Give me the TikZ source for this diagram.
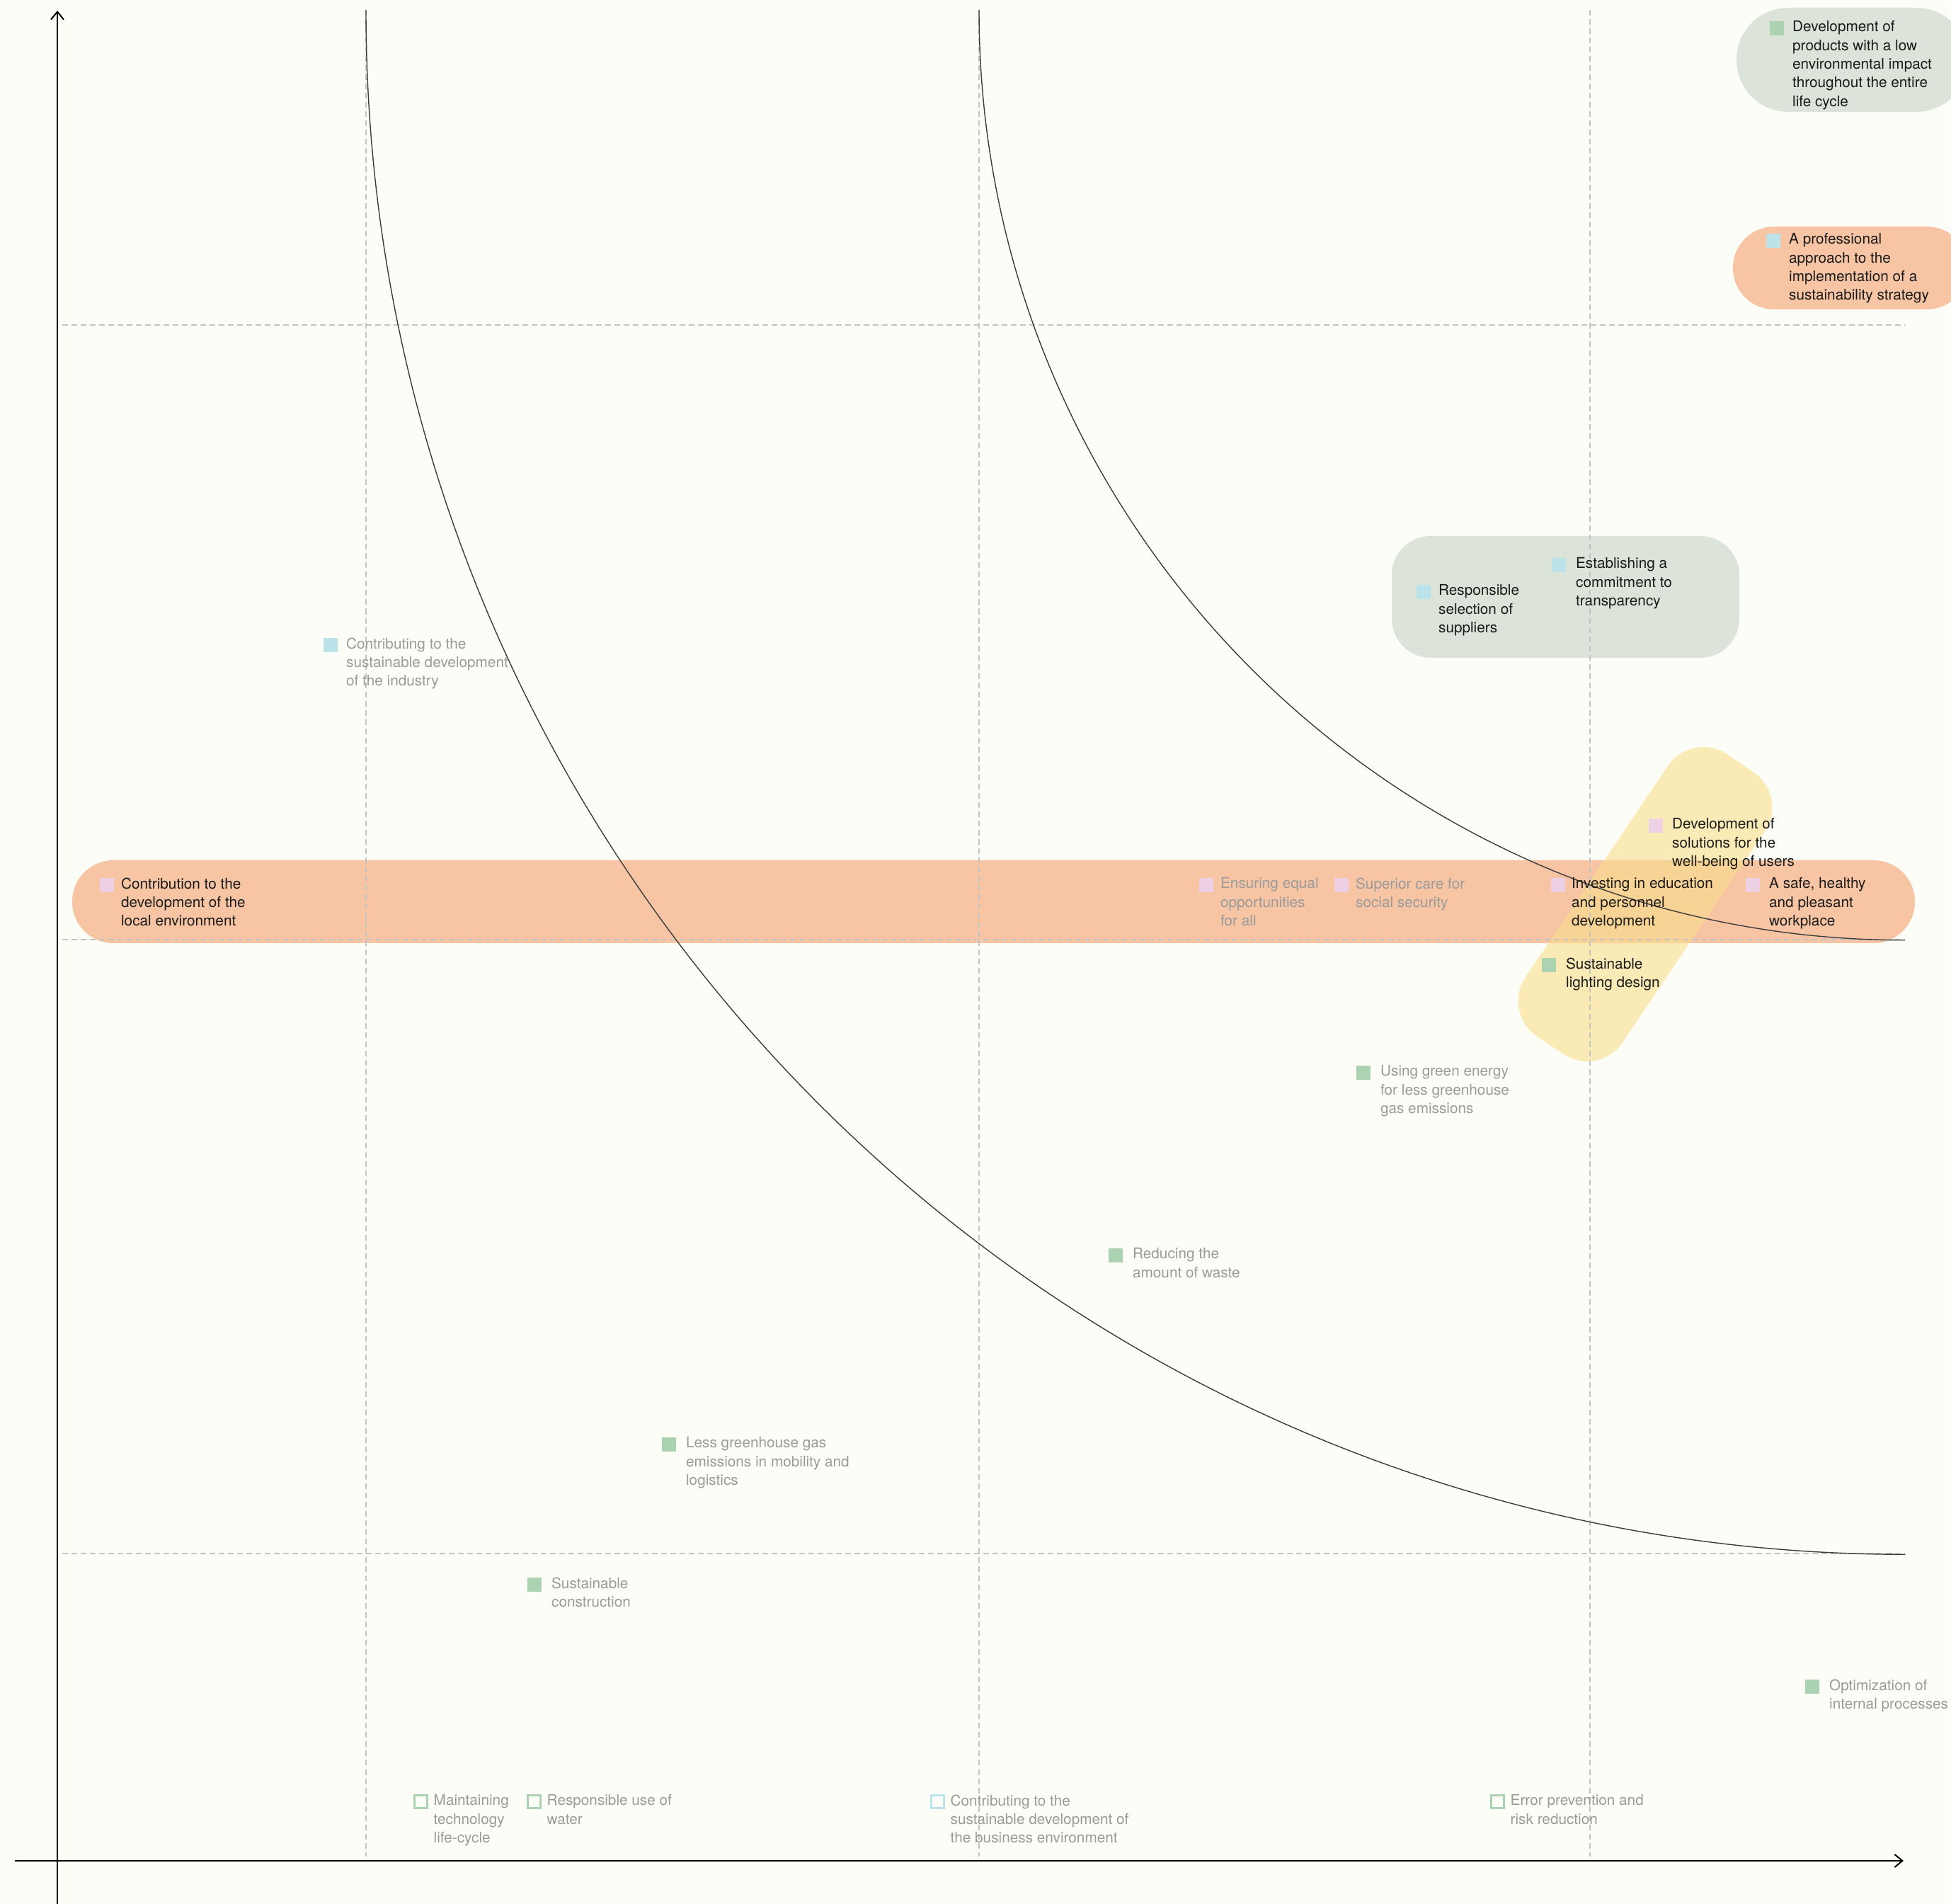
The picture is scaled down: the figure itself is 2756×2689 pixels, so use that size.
\documentclass[tikz,border=0pt]{standalone}
\usepackage{fontspec}
\setmainfont{TeX Gyre Heros}
\usepackage{tikz}
\usetikzlibrary{arrows.meta, positioning}
\definecolor{paper}{HTML}{FDFDF7}
\definecolor{leaf}{HTML}{ABD3B1}
\definecolor{sky}{HTML}{BDE3EA}
\definecolor{blush}{HTML}{EED0E5}
\definecolor{sage}{HTML}{DCE3D9}
\definecolor{peach}{HTML}{F7C5A4}
\definecolor{butter}{HTML}{F7DE8C}
\definecolor{ink}{HTML}{1A1A1A}
\definecolor{ash}{HTML}{9A9A9A}
\definecolor{rule}{HTML}{C4C4C4}
\definecolor{lead}{HTML}{3C3C3C}
\tikzstyle{chip}=[rectangle, minimum size=0.2cm, inner sep=0pt, anchor=north west]
\tikzstyle{openchip}=[rectangle, minimum size=0.18cm, inner sep=0pt, line width=0.03cm, fill=paper, anchor=north west]
\tikzstyle{topic}=[align=left, inner sep=0pt, text=ink, font=\fontsize{5.9}{7.5}\selectfont, anchor=north west]
\tikzstyle{minor}=[topic, text=ash]
\tikzstyle{guide}=[rule, line width=0.3pt, dash pattern=on 0.08cm off 0.05cm]
\tikzstyle{curve}=[lead, line width=0.4pt]
\tikzstyle{axis}=[black, line width=0.02cm, -{Straight Barb[length=0.11cm, width=0.18cm]}]

\begin{document}
\begin{tikzpicture}[x=0.01cm, y=-0.01cm]
    \path[use as bounding box, fill=paper] (0,0) rectangle (2756,2689);
    \clip (0,0) rectangle (2756,2689);

    \fill[sage, rounded corners=0.73cm] (2453,11) rectangle (2780,158);
    \fill[peach, rounded corners=0.58cm] (2448,320) rectangle (2780,437);
    \fill[sage, rounded corners=0.55cm] (1966,757) rectangle (2457,929);
    \fill[peach, rounded corners=0.58cm] (102,1215) rectangle (2705,1332);
    \node[rectangle, fill=butter, fill opacity=0.6, rounded corners=0.6cm,
          minimum width=4.8cm, minimum height=1.65cm, rotate=56] (band) at (2324,1277) {};

    \draw[guide] (88,459) -- (2690,459);
    \draw[guide] (88,1327) -- (2690,1327);
    \draw[guide] (88,2194) -- (2690,2194);
    \draw[guide] (517,14) -- (517,2622);
    \draw[guide] (1383,14) -- (1383,2622);
    \draw[guide] (2246,14) -- (2246,2622);

    \draw[curve] (517,14) arc[start angle=180, end angle=270, x radius=21.73cm, y radius=21.80cm];
    \draw[curve] (1383,14) arc[start angle=180, end angle=270, x radius=13.07cm, y radius=13.13cm];

    \coordinate (ybot) at (81,2689);
    \coordinate (ytop) at (81,15);
    \coordinate (xlft) at (21,2628);
    \coordinate (xrgt) at (2689,2628);
    \draw[axis] (ybot) -- (ytop);
    \draw[axis] (xlft) -- (xrgt);

    \node[chip, fill=leaf] (s1) at (2499,29) {};
    \node (prod) [right=0.11cm of s1.north east, topic] {Development of\\products with a low\\environmental impact\\throughout the entire\\life cycle};
    \node[chip, fill=sky] (s2) at (2494,329) {};
    \node (strat) [right=0.11cm of s2.north east, topic] {A professional\\approach to the\\implementation of a\\sustainability strategy};
    \node[chip, fill=sky] (s3) at (2000,825) {};
    \node (supp) [right=0.1cm of s3.north east, topic] {Responsible\\selection of\\suppliers};
    \node[chip, fill=sky] (s4) at (2191,787) {};
    \node (transp) [right=0.13cm of s4.north east, topic] {Establishing a\\commitment to\\transparency};
    \node[chip, fill=sky] (s5) at (456,900) {};
    \node (industry) [right=0.11cm of s5.north east, minor] {Contributing to the\\sustainable development\\of the industry};

    \node[chip, fill=blush] (s6) at (140,1239) {};
    \node (local) [right=0.09cm of s6.north east, topic] {Contribution to the\\development of the\\local environment};
    \node[chip, fill=blush] (s7) at (1693,1239) {};
    \node (equal) [right=0.09cm of s7.north east, minor] {Ensuring equal\\opportunities\\for all};
    \node[chip, fill=blush] (s8) at (1884,1239) {};
    \node (care) [right=0.09cm of s8.north east, minor] {Superior care for\\social security};
    \node[chip, fill=blush] (s9) at (2190,1239) {};
    \node (edu) [right=0.08cm of s9.north east, topic] {Investing in education\\and personnel\\development};
    \node[chip, fill=blush] (s10) at (2465,1239) {};
    \node (work) [right=0.12cm of s10.north east, topic] {A safe, healthy\\and pleasant\\workplace};
    \node[chip, fill=blush] (s11) at (2328,1155) {};
    \node (users) [right=0.12cm of s11.north east, topic] {Development of\\solutions for the\\well-being of users};

    \node[chip, fill=leaf] (s12) at (2177,1352) {};
    \node (light) [right=0.13cm of s12.north east, topic] {Sustainable\\lighting design};
    \node[chip, fill=leaf] (s13) at (1915,1504) {};
    \node (energy) [right=0.13cm of s13.north east, minor] {Using green energy\\for less greenhouse\\gas emissions};
    \node[chip, fill=leaf] (s14) at (1565,1762) {};
    \node (waste) [right=0.13cm of s14.north east, minor] {Reducing the\\amount of waste};
    \node[chip, fill=leaf] (s15) at (934,2029) {};
    \node (mobil) [right=0.13cm of s15.north east, minor] {Less greenhouse gas\\emissions in mobility and\\logistics};
    \node[chip, fill=leaf] (s16) at (744,2227) {};
    \node (constr) [right=0.13cm of s16.north east, minor] {Sustainable\\construction};
    \node[chip, fill=leaf] (s17) at (2549,2371) {};
    \node (proc) [right=0.13cm of s17.north east, minor] {Optimization of\\internal processes};

    \node[openchip, draw=leaf] (s18) at (584,2534) {};
    \node (tech) [right=0.07cm of s18.north east, minor] {Maintaining\\technology\\life-cycle};
    \node[openchip, draw=leaf] (s19) at (744,2534) {};
    \node (water) [right=0.07cm of s19.north east, minor] {Responsible use of\\water};
    \node[openchip, draw=sky] (s20) at (1314,2534) {};
    \node (business) [right=0.07cm of s20.north east, minor] {Contributing to the\\sustainable development of\\the business environment};
    \node[openchip, draw=leaf] (s21) at (2105,2534) {};
    \node (risk) [right=0.07cm of s21.north east, minor] {Error prevention and\\risk reduction};
\end{tikzpicture}
\end{document}
